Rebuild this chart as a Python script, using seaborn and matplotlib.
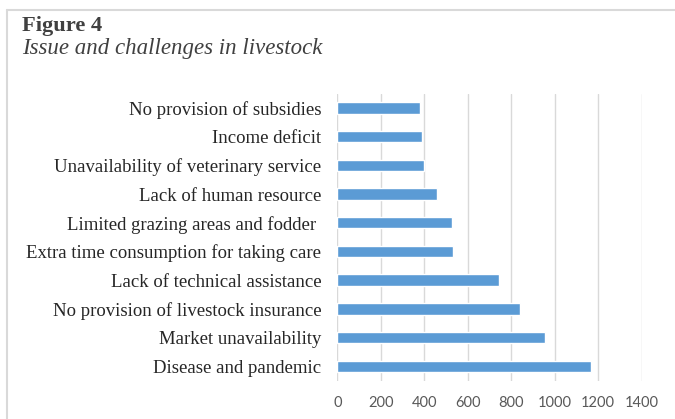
import matplotlib
matplotlib.use("Agg")
import matplotlib.pyplot as plt
import seaborn as sns
import pandas as pd

categories = [
    "No provision of subsidies",
    "Income deficit",
    "Unavailability of veterinary service",
    "Lack of human resource",
    "Limited grazing areas and fodder ",
    "Extra time consumption for taking care",
    "Lack of technical assistance",
    "No provision of livestock insurance",
    "Market unavailability",
    "Disease and pandemic",
]
values = [382, 390, 399, 457, 526, 534, 745, 839, 954, 1166]
x_ticks = [0, 200, 400, 600, 800, 1000, 1200, 1400]

df = pd.DataFrame({"issue": categories, "count": values})

sns.set_theme(style="white")
fig = plt.figure(figsize=(6.75, 4.19), dpi=100)
ax = fig.add_axes([0.4997, 0.0914, 0.4510, 0.6854])

sns.barplot(data=df, y="issue", x="count", orient="h", color="#5B9BD5",
            width=0.4, saturation=1, ax=ax, order=categories)

ax.set_xlim(0, 1400)
ax.set_ylim(9.5, -0.5)
ax.set_xticks(x_ticks)
ax.set_xticklabels([str(t) for t in x_ticks], family="Lato", fontsize=10.5, color="#595959")
ax.set_yticklabels(categories, family="Liberation Serif", fontsize=13.5, color="#262626")
ax.tick_params(axis="y", length=0, pad=11.5)
ax.tick_params(axis="x", length=0, pad=11)
ax.set_xlabel("")
ax.set_ylabel("")
for s in ax.spines.values():
    s.set_visible(False)
ax.xaxis.grid(True, color="#D9D9D9", linewidth=1)
ax.set_axisbelow(True)

fig.text(22 / 675, 1 - 31 / 419, "Figure 4", family="Liberation Serif",
         fontweight="bold", fontsize=16.2, color="#404040", va="baseline", ha="left")
fig.text(22 / 675, 1 - 54 / 419, "Issue and challenges in livestock", family="Liberation Serif",
         style="italic", fontsize=16.5, color="#404040", va="baseline", ha="left")

# light frame lines (top and left)
fig.add_artist(plt.Line2D([7 / 675, 1], [1 - 10 / 419, 1 - 10 / 419], transform=fig.transFigure,
                          color="#D9D9D9", linewidth=1.5))
fig.add_artist(plt.Line2D([7 / 675, 7 / 675], [0, 1 - 10 / 419], transform=fig.transFigure,
                          color="#D9D9D9", linewidth=1.5))

fig.savefig("out.png", dpi=100)
